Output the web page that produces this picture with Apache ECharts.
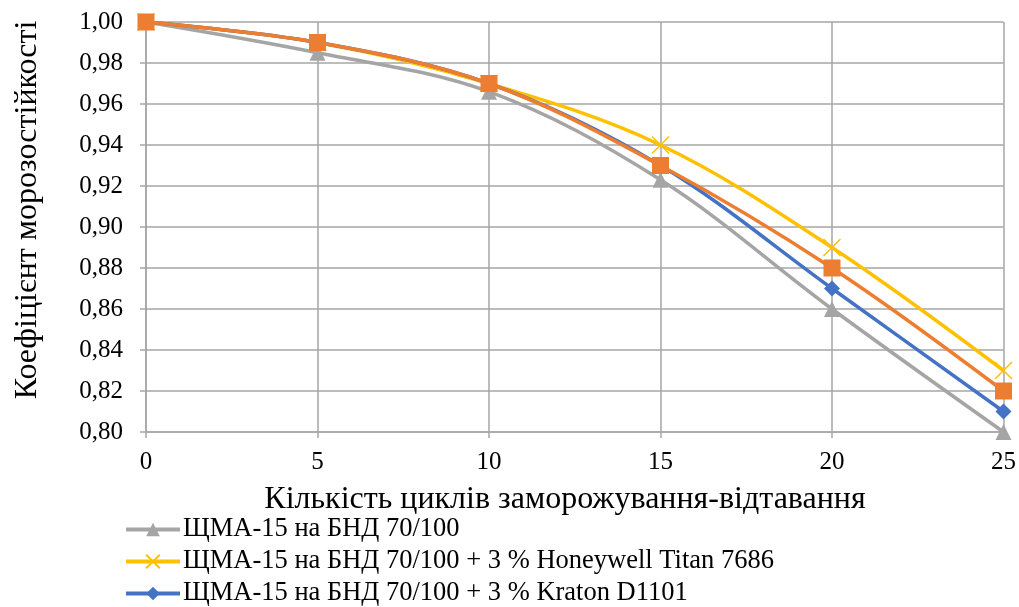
<!DOCTYPE html>
<html>
<head>
<meta charset="utf-8">
<script src="https://cdn.jsdelivr.net/npm/echarts@6/dist/echarts.min.js"></script>
<style>
  html, body { margin: 0; padding: 0; background: #fff; }
  #chart { width: 1019px; height: 607px; }
</style>
</head>
<body>
<div id="chart"></div>
<script>
// Freeze–thaw cycles on the x axis
const cycles = [0, 5, 10, 15, 20, 25];

// Frost resistance coefficient for each mix
const smaBase    = [1.00, 0.985, 0.966, 0.923, 0.86, 0.80];
const smaTitan   = [1.00, 0.99, 0.97, 0.94, 0.89, 0.83];
const smaKraton  = [1.00, 0.99, 0.97, 0.93, 0.87, 0.81];
const smaFourth  = [1.00, 0.99, 0.97, 0.93, 0.88, 0.82];

const seriesNames = [
  'ЩМА-15 на БНД 70/100',
  'ЩМА-15 на БНД 70/100 + 3 % Honeywell Titan 7686',
  'ЩМА-15 на БНД 70/100 + 3 % Kraton D1101',
  'ЩМА-15 на БНД 70/100 + 3 % Elvaloy 4170'
];

const xTitle = 'Кількість циклів заморожування-відтавання';
const yTitle = 'Коефіцієнт морозостійкості';

const FONT = '"Liberation Serif", "DejaVu Serif", serif';
const GRID = '#a6a6a6';

function pairs(ys) { return cycles.map((x, i) => [x, ys[i]]); }

function lineSeries(name, ys, color, symbol, size, extra) {
  return Object.assign({
    name: name,
    type: 'line',
    data: pairs(ys),
    smooth: 0.35,
    symbol: symbol,
    symbolSize: size,
    showSymbol: true,
    lineStyle: { color: color, width: 3.5 },
    itemStyle: { color: color },
    emphasis: { disabled: true },
    animation: false
  }, extra || {});
}

const chart = echarts.init(document.getElementById('chart'), null, { renderer: 'canvas' });

chart.setOption({
  backgroundColor: '#ffffff',
  textStyle: { fontFamily: FONT, color: '#000' },
  grid: { left: 146, right: 12, top: 22, bottom: 175, containLabel: false },
  xAxis: {
    type: 'value',
    min: 0, max: 25, interval: 5,
    axisLine: { show: true, lineStyle: { color: GRID, width: 1.5 } },
    axisTick: { show: true, length: 6, lineStyle: { color: GRID, width: 1.5 } },
    axisLabel: { fontFamily: FONT, fontSize: 25, color: '#000', margin: 18 },
    splitLine: { show: true, lineStyle: { color: GRID, width: 1.5 } }
  },
  yAxis: {
    type: 'value',
    min: 0.80, max: 1.00, interval: 0.02,
    axisLine: { show: true, lineStyle: { color: GRID, width: 1.5 } },
    axisTick: { show: true, length: 6, lineStyle: { color: GRID, width: 1.5 } },
    axisLabel: {
      fontFamily: FONT, fontSize: 25, color: '#000', margin: 23,
      formatter: v => v.toFixed(2).replace('.', ',')
    },
    splitLine: { show: true, lineStyle: { color: GRID, width: 1.5 } }
  },
  graphic: [
    {
      type: 'text', x: 565, y: 500, silent: true,
      style: { text: xTitle, font: '32px ' + FONT, fill: '#000', align: 'center', verticalAlign: 'middle' }
    },
    {
      type: 'text', x: 28, y: 210, rotation: Math.PI / 2, silent: true,
      style: { text: yTitle, font: '32px ' + FONT, fill: '#000', align: 'center', verticalAlign: 'middle' }
    }
  ],
  legend: {
    orient: 'vertical',
    left: 124,
    top: 516,
    height: 200,
    padding: 0,
    itemWidth: 54,
    itemHeight: 17,
    itemGap: 5,
    data: seriesNames.slice(0, 3),
    lineStyle: { width: 4 },
    textStyle: { fontFamily: FONT, fontSize: 26.5, color: '#000', padding: [0, 0, 0, -2] },
    selectedMode: false
  },
  series: [
    lineSeries(seriesNames[0], smaBase, '#a5a5a5', 'triangle', 16),
    lineSeries(seriesNames[1], smaTitan, '#ffc000',
      'path://M0,0L10,10M10,0L0,10', 17,
      { itemStyle: { color: 'none', borderColor: '#ffc000', borderWidth: 1.5 } }),
    lineSeries(seriesNames[2], smaKraton, '#4472c4', 'diamond', 16),
    lineSeries(seriesNames[3], smaFourth, '#ed7d31', 'rect', 17)
  ]
});
</script>
</body>
</html>
